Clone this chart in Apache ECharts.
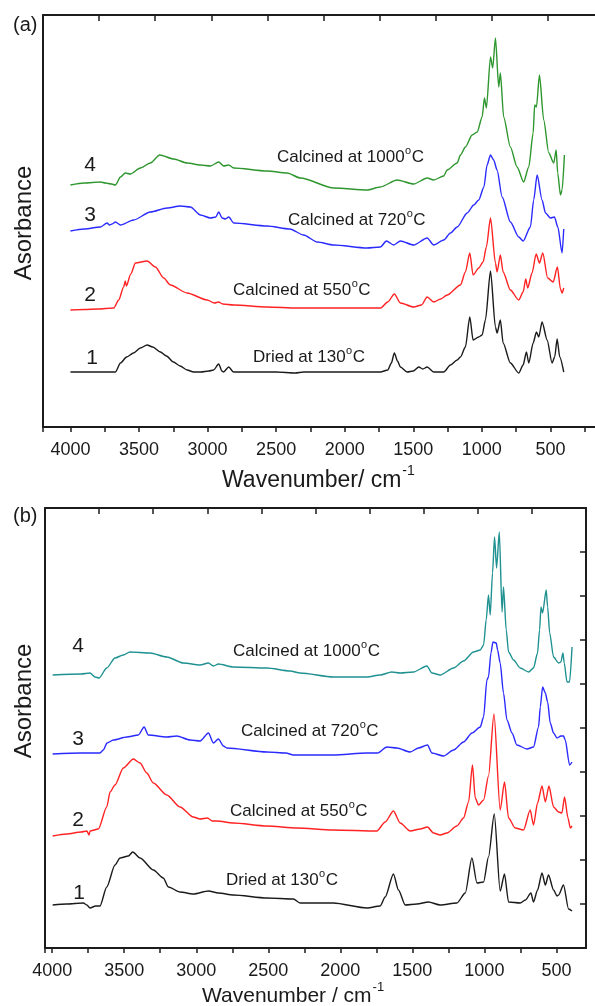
<!DOCTYPE html>
<html><head><meta charset="utf-8">
<script src="https://cdn.jsdelivr.net/npm/echarts@6/dist/echarts.min.js"></script>
<style>html,body{margin:0;padding:0;background:#fff}#c{width:595px;height:1006px}</style>
</head><body><div id="c"></div>
<script>
// ---------- data (wavenumber cm-1, relative absorbance with offsets) ----------
const tickLabels = [4000, 3500, 3000, 2500, 2000, 1500, 1000, 500];
const curveNumbers = ['1', '2', '3', '4'];
const curveTexts = ['Dried at 130', 'Calcined at 550', 'Calcined at 720', 'Calcined at 1000'];

// panel (a)
const a1 = [[4000,55],[3900,55],[3800,55],[3700,55],[3672,55],[3635,64],[3590,70],[3540,74],[3490,79],[3441,82],[3400,80],[3344,75],[3300,71],[3249,65],[3200,61],[3149,57],[3102,55],[3050,55],[2990,56],[2956,57],[2919,63],[2895,56],[2884,55],[2846,60],[2811,55],[2700,55],[2500,55],[2360,54],[2300,55],[2000,55],[1740,55],[1686,57],[1660,64],[1638,74],[1615,66],[1594,60],[1545,55],[1500,56],[1460,60],[1430,58],[1399,60],[1351,55],[1278,55],[1229,62],[1180,67],[1156,70],[1120,80],[1088,110],[1064,87],[1023,90],[998,92],[974,107],[937,156],[901,100],[889,94],[865,107],[845,84],[792,64],[731,54],[699,62],[675,75],[658,64],[626,84],[602,95],[585,90],[561,105],[524,87],[488,64],[469,70],[451,88],[432,70],[403,55]];
const a2 = [[4000,117],[3900,117.5],[3800,118],[3684,119],[3648,127],[3612,140],[3600,146],[3592,141],[3560,153],[3526,164],[3441,166],[3380,160],[3320,149],[3271,142],[3149,134],[3003,127],[2950,124],[2919,125],[2890,123],[2809,122],[2566,120],[2347,119],[2000,119],[1739,119],[1686,125],[1638,133],[1594,124],[1497,120],[1440,122],[1399,130],[1351,125],[1300,128],[1253,132],[1156,142],[1120,155],[1088,174],[1064,152],[1023,159],[991,165],[967,180],[937,209],[901,164],[889,155],[865,172],[845,155],[792,137],[731,127],[699,135],[680,148],[666,139],[634,154],[604,173],[580,164],[556,174],[520,149],[480,145],[449,160],[427,138],[415,134],[403,139]];
const a3 = [[4000,196],[3900,198],[3781,200],[3733,204],[3715,202],[3696,203],[3672,205],[3635,202],[3539,207],[3417,215],[3295,219],[3198,221],[3125,220],[3052,212],[2979,209],[2940,210],[2919,215],[2894,209],[2870,208],[2846,210],[2809,204],[2566,201],[2400,198],[2300,192],[2200,185],[2080,182],[1837,179],[1740,180],[1696,186],[1643,182],[1594,186],[1497,182],[1399,189],[1351,182],[1278,187],[1229,194],[1180,200],[1107,214],[1059,222],[1023,227],[985,240],[962,262],[937,272],[914,267],[889,257],[852,230],[792,205],[731,190],[699,186],[646,200],[622,227],[597,252],[561,227],[536,214],[500,209],[471,210],[446,200],[415,174],[403,198]];
const a4 = [[4000,242],[3900,244],[3781,245],[3745,244],[3700,243],[3672,242],[3635,250],[3600,254],[3563,253],[3490,259],[3417,264],[3349,272],[3247,268],[3149,264],[3052,262],[2979,261],[2919,265],[2882,261],[2846,262],[2809,259],[2566,256],[2420,254],[2323,249],[2080,239],[1837,237],[1740,240],[1618,247],[1497,243],[1399,249],[1351,247],[1278,251],[1253,257],[1180,264],[1156,272],[1120,280],[1071,292],[1034,295],[998,310],[981,329],[967,319],[937,370],[921,359],[901,389],[877,340],[865,354],[841,310],[792,280],[743,260],[695,245],[658,260],[626,294],[615,322],[602,320],[580,352],[549,307],[512,274],[476,264],[458,277],[447,254],[427,232],[415,237],[398,272]];

// panel (b)
const b1 = [[3997,43],[3900,44],[3784,45],[3760,43],[3738,40],[3700,42],[3669,42],[3622,61],[3565,83],[3530,90],[3472,92],[3442,96],[3391,90],[3299,78],[3230,70],[3195,61],[3114,56],[3022,54],[2917,57],[2848,55],[2744,53],[2512,50],[2328,49],[2282,45],[2051,45],[1819,40],[1727,42],[1692,51],[1635,74],[1600,58],[1553,43],[1472,44],[1392,46],[1311,43],[1195,45],[1137,55],[1091,90],[1056,65],[1010,66],[976,91],[936,134],[895,57],[865,74],[837,46],[756,45],[720,48],[682,55],[664,46],[636,58],[605,75],[582,63],[560,73],[525,58],[501,52],[490,53],[456,63],[421,39],[397,37]];
const b2 = [[3997,112],[3900,114],[3800,116],[3760,117],[3745,113],[3738,117],[3680,119],[3622,141],[3599,156],[3565,163],[3507,180],[3438,189],[3391,185],[3345,175],[3299,165],[3206,153],[3114,141],[3022,131],[2975,129],[2924,130],[2890,127],[2859,127],[2744,125],[2512,122],[2305,120],[2051,118],[1750,117],[1692,126],[1635,137],[1588,125],[1519,117],[1449,119],[1399,121],[1357,115],[1311,113],[1264,115],[1195,122],[1149,130],[1114,146],[1087,183],[1068,150],[1045,143],[1010,148],[976,172],[938,234],[895,138],[865,166],[837,130],[791,120],[733,118],[687,138],[664,123],[636,145],[605,162],[582,146],[557,162],[525,141],[490,136],[467,135],[449,151],[425,130],[409,120],[397,122]];
const b3 = [[3997,194],[3800,195],[3669,195],[3646,198],[3620,205],[3576,208],[3483,211],[3403,213],[3363,221],[3334,213],[3206,211],[3137,212],[3044,208],[2975,207],[2917,215],[2883,205],[2848,209],[2813,202],[2790,200],[2512,196],[2380,195],[2328,193],[2282,193],[2051,193],[1819,195],[1745,195],[1680,201],[1611,200],[1519,196],[1461,200],[1399,203],[1368,195],[1288,192],[1218,198],[1149,206],[1090,215],[1033,221],[1010,231],[987,268],[976,271],[959,295],[945,306],[922,305],[913,298],[895,285],[872,255],[848,228],[813,215],[779,203],[709,199],[664,201],[629,221],[617,241],[601,261],[582,255],[566,246],[548,225],[525,215],[501,210],[474,212],[456,212],[444,208],[414,183],[397,186]];
const b4 = [[3997,273],[3800,274],[3738,275],[3703,271],[3675,270],[3622,280],[3565,290],[3507,293],[3461,296],[3322,295],[3206,291],[3091,285],[2975,283],[2917,285],[2883,282],[2848,284],[2744,281],[2512,280],[2351,277],[2282,275],[2051,271],[1819,271],[1727,273],[1646,276],[1588,275],[1496,276],[1403,282],[1368,275],[1311,273],[1218,280],[1149,287],[1080,296],[1033,298],[1010,303],[992,328],[976,353],[964,333],[948,375],[934,411],[920,380],[901,416],[882,336],[872,361],[853,318],[837,296],[802,288],[756,280],[698,276],[664,280],[636,295],[622,318],[612,341],[601,335],[576,358],[566,341],[552,315],[525,291],[490,285],[474,286],[460,295],[451,285],[432,266],[414,266],[397,301]];

// ---------- chart ----------
const FONT = '"Liberation Sans", Arial, Helvetica, sans-serif';
const AXC = '#1c1c1c';
const TXC = '#1a1a1a';
const colorsA = ['#1a1a1a', '#ff2222', '#2a2aff', '#2e962e'];
const colorsB = ['#1a1a1a', '#ff2222', '#2a2aff', '#1f9191'];

const chart = echarts.init(document.getElementById('c'), null, {renderer: 'canvas'});
const mctx = document.createElement('canvas').getContext('2d');
function textW(s, size) { mctx.font = size + 'px ' + FONT; return mctx.measureText(s).width; }

function labelFmt(v) { return tickLabels.indexOf(v) >= 0 ? String(v) : ''; }

function lineSeries(data, color, xi, yi) {
  return {type: 'line', data: data, xAxisIndex: xi, yAxisIndex: yi, showSymbol: false,
    smooth: 0.25, smoothMonotone: 'x', silent: true,
    lineStyle: {color: color, width: 1.4}};
}

function txt(x, y, text, size, align, rot) {
  const g = {type: 'text', x: x, y: y, silent: true,
    style: {text: text, fill: TXC, font: size + 'px ' + FONT, textAlign: align || 'left', textVerticalAlign: 'middle'}};
  if (rot) g.rotation = rot;
  return g;
}
// text + raised small "o" + "C"
function degText(x, y, base, out) {
  const w = textW(base, 17);
  out.push(txt(x, y, base, 17));
  out.push(txt(x + w + 0.5, y - 6, 'o', 11));
  out.push(txt(x + w + 0.5 + textW('o', 11) + 0.5, y, 'C', 17));
}
function supText(x, y, base, sup, size, out) {
  const w = textW(base, size);
  out.push(txt(x, y, base, size));
  out.push(txt(x + w + 1, y - size * 0.42, sup, Math.round(size * 0.6)));
}

const numPosA = [[92, 358], [90, 295], [90, 215], [90, 165]];
const txtPosA = [[253, 357], [233, 290], [288, 220], [277, 157]];
const numPosB = [[79, 893], [78, 820], [78, 739], [78, 646]];
const txtPosB = [[226, 880], [230, 811], [241, 731], [233, 651]];

const graphics = [];
graphics.push(txt(13, 25, '(a)', 20));
graphics.push(txt(13, 516, '(b)', 20));
graphics.push(txt(24, 223, 'Asorbance', 24, 'center', Math.PI / 2));
graphics.push(txt(24, 701, 'Asorbance', 24, 'center', Math.PI / 2));
supText(222, 481, 'Wavenumber/ cm', '-1', 23, graphics);
supText(202, 996, 'Wavenumber / cm', '-1', 21, graphics);
for (let i = 0; i < 4; i++) {
  graphics.push(txt(numPosA[i][0], numPosA[i][1], curveNumbers[i], 21, 'center'));
  degText(txtPosA[i][0], txtPosA[i][1], curveTexts[i], graphics);
  graphics.push(txt(numPosB[i][0], numPosB[i][1], curveNumbers[i], 21, 'center'));
  degText(txtPosB[i][0], txtPosB[i][1], curveTexts[i], graphics);
}

const axLine = {show: true, onZero: false, lineStyle: {color: AXC, width: 2}};
const tickStyle = {color: AXC, width: 1.5};
const noAxis = {show: false, onZero: false};
const option = {
  animation: false,
  backgroundColor: '#ffffff',
  grid: [
    // (a) data + frame (right side runs off the page as in the original)
    {left: 43, top: 15, width: 576, height: 412, containLabel: false, outerBoundsMode: 'none'},
    // (b) data grid (0 cm-1 lies beyond the frame)
    {left: 45, top: 508, width: 584.3, height: 440, containLabel: false, outerBoundsMode: 'none'},
    // (b) frame
    {left: 45, top: 508, width: 541, height: 440, containLabel: false, outerBoundsMode: 'none'},
    // (b) wavenumber tick axis (500 .. 4050)
    {left: 45, top: 508, width: 511.4, height: 440, containLabel: false, outerBoundsMode: 'none'}
  ],
  xAxis: [
    {gridIndex: 0, type: 'value', position: 'bottom', min: 0, max: 4200, interval: 250, inverse: true,
      axisLine: axLine, axisTick: {show: true, inside: false, length: 5, lineStyle: tickStyle},
      axisLabel: {formatter: labelFmt, fontSize: 18, fontFamily: FONT, color: TXC, margin: 14},
      splitLine: {show: false}},
    {gridIndex: 0, type: 'value', position: 'top', min: 0, max: 10.267, interval: 1,
      axisLine: axLine, axisTick: {show: true, inside: true, length: 6, lineStyle: tickStyle},
      axisLabel: {show: false}, splitLine: {show: false}},
    {gridIndex: 1, type: 'value', position: 'bottom', min: 0, max: 4050, inverse: true,
      axisLine: noAxis, axisTick: {show: false}, axisLabel: {show: false}, splitLine: {show: false}},
    {gridIndex: 2, type: 'value', position: 'top', min: 0, max: 10, interval: 1,
      axisLine: axLine, axisTick: {show: true, inside: true, length: 6, lineStyle: tickStyle},
      axisLabel: {show: false}, splitLine: {show: false}},
    {gridIndex: 2, type: 'value', position: 'bottom', min: 0, max: 10, interval: 1,
      axisLine: axLine, axisTick: {show: false}, axisLabel: {show: false}, splitLine: {show: false}},
    {gridIndex: 3, type: 'value', position: 'bottom', min: 500, max: 4050, interval: 250, inverse: true,
      axisLine: noAxis, axisTick: {show: true, inside: false, length: 5, lineStyle: tickStyle},
      axisLabel: {formatter: labelFmt, fontSize: 18, fontFamily: FONT, color: TXC, margin: 14},
      splitLine: {show: false}}
  ],
  yAxis: [
    {gridIndex: 0, type: 'value', position: 'left', min: 0, max: 412,
      axisLine: axLine, axisTick: {show: false}, axisLabel: {show: false}, splitLine: {show: false}},
    {gridIndex: 1, type: 'value', min: 0, max: 440, show: false, axisLine: noAxis, splitLine: {show: false}},
    {gridIndex: 2, type: 'value', position: 'left', min: 0, max: 440, interval: 44,
      axisLine: axLine, axisTick: {show: false}, axisLabel: {show: false}, splitLine: {show: false}},
    {gridIndex: 2, type: 'value', position: 'right', min: 0, max: 440, interval: 44,
      axisLine: axLine, axisTick: {show: true, inside: true, length: 6, lineStyle: tickStyle},
      axisLabel: {show: false}, splitLine: {show: false}},
    {gridIndex: 3, type: 'value', min: 0, max: 440, show: false, axisLine: noAxis, splitLine: {show: false}}
  ],
  series: [
    lineSeries(a1, colorsA[0], 0, 0), lineSeries(a2, colorsA[1], 0, 0),
    lineSeries(a3, colorsA[2], 0, 0), lineSeries(a4, colorsA[3], 0, 0),
    lineSeries(b1, colorsB[0], 2, 1), lineSeries(b2, colorsB[1], 2, 1),
    lineSeries(b3, colorsB[2], 2, 1), lineSeries(b4, colorsB[3], 2, 1)
  ],
  graphic: graphics
};
chart.setOption(option);
</script>
</body></html>
